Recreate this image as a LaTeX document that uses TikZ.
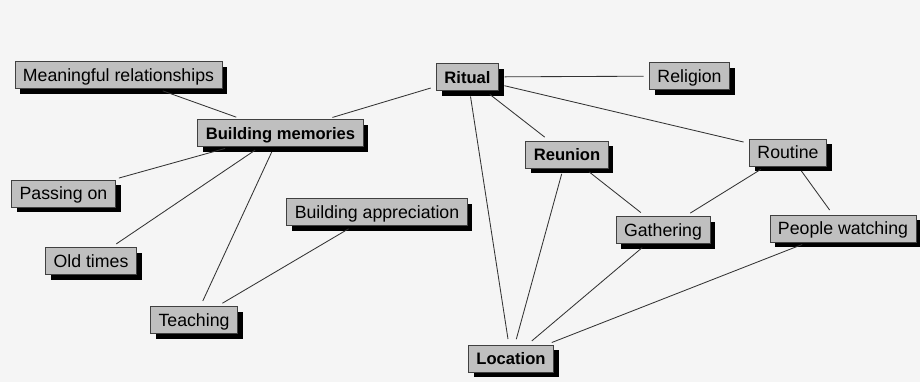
\documentclass[tikz,border=0pt]{standalone}
\usepackage{fontspec}
\setmainfont{Liberation Sans}
\usetikzlibrary{shadows}
\begin{document}
\begin{tikzpicture}[x=0.025cm,y=-0.025cm]
\tikzstyle{every node}+=[inner xsep=0.2cm, inner ysep=0pt, minimum height=0.68cm, text height=0.95em, text depth=0.05em]
\tikzstyle{concept}=[draw=black!75, line width=0.5pt, fill=black!25, drop shadow={shadow xshift=0.13cm, shadow yshift=-0.13cm, fill=black, opacity=1}, font=\fontsize{12.6}{14}\selectfont]
\tikzstyle{keyconcept}=[concept, font=\fontsize{11.8}{14}\selectfont\bfseries]
\tikzstyle{link}=[draw=black!80, line width=0.6pt, shorten >=0.14cm, shorten <=0.14cm]
\fill[black!4] (0,0) rectangle (920,382);
\useasboundingbox (0,0) rectangle (920,382);
\node[concept] (meaning) at (118.5,75) {Meaningful relationships};
\node[keyconcept] (memories) at (280.5,133) {Building memories};
\node[keyconcept] (ritual) at (467.5,77) {Ritual};
\node[concept] (religion) at (689.5,76) {Religion};
\node[keyconcept] (reunion) at (567,154.5) {Reunion};
\node[concept] (routine) at (788,152.5) {Routine};
\node[concept] (gathering) at (663,230) {Gathering};
\node[concept] (watching) at (843,228.5) {People watching};
\node[concept] (passing) at (63.5,193.5) {Passing on};
\node[concept] (oldtimes) at (91,261) {Old times};
\node[concept] (teaching) at (194,320) {Teaching};
\node[concept] (appreciation) at (377,212) {Building appreciation};
\node[keyconcept] (location) at (511,358.5) {Location};
\draw[link] (meaning) -- (memories);
\draw[link] (ritual) -- (memories);
\draw[link] (ritual) -- (religion);
\draw[link] (ritual) -- (routine);
\draw[link] (ritual) -- (reunion);
\draw[link] (ritual) -- (location);
\draw[link] (memories) -- (passing);
\draw[link] (memories) -- (oldtimes);
\draw[link] (memories) -- (teaching);
\draw[link] (appreciation) -- (teaching);
\draw[link] (reunion) -- (location);
\draw[link] (reunion) -- (gathering);
\draw[link] (routine) -- (gathering);
\draw[link] (routine) -- (watching);
\draw[link] (gathering) -- (location);
\draw[link] (watching) -- (location);
\end{tikzpicture}
\end{document}
